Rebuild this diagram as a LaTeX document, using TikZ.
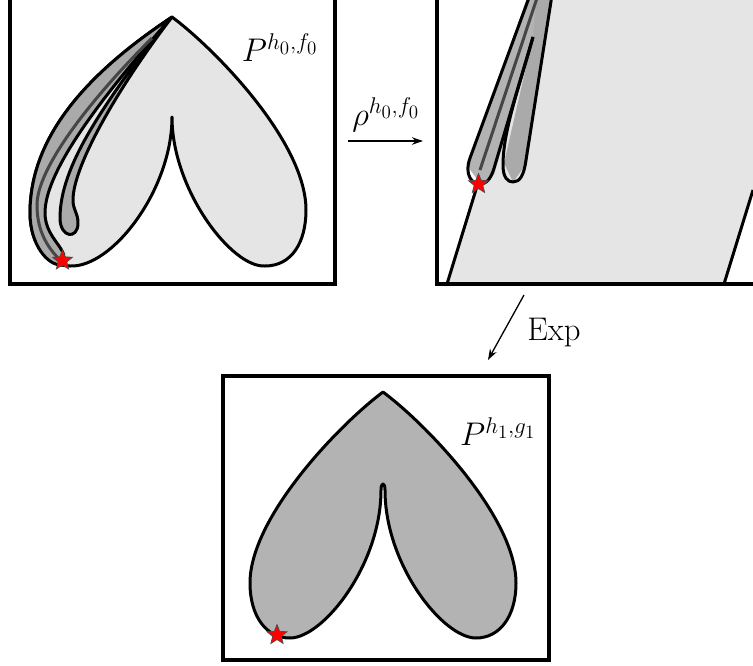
\documentclass[tikz,border=0pt]{standalone}
\usepackage{tikz}
\usetikzlibrary{arrows.meta, shapes.geometric}
\definecolor{heartlight}{RGB}{229,229,229}
\definecolor{heartgrey}{RGB}{179,179,179}
\definecolor{bandgrey}{RGB}{170,170,170}
\definecolor{midgrey}{RGB}{70,70,70}
\begin{document}
\begin{tikzpicture}[x=1pt, y=-1pt,
    frame/.style={draw=black, line width=3.3pt},
    curve/.style={draw=black, line width=3pt, line join=round},
    midline/.style={draw=midgrey, line width=3pt},
    redstar/.style={star, star points=5, star point ratio=2.3, draw=black!70, fill=red,
                    inner sep=0pt, minimum size=21pt, line width=0.7pt},
    maparrow/.style={-{Stealth[length=11pt, width=7.5pt]}, line width=1.3pt},
    label/.style={font=\huge, scale=1.58, inner sep=0pt}
  ]
  \useasboundingbox (0,0) rectangle (753,665);
  \fill[white] (0,0) rectangle (753,665);
  % Top left panel
  \draw[frame] (10,-1.3) rectangle (335,284);
  \draw[curve, fill=heartlight] (172,17) .. controls (215,49) and (306,142) .. (306,210)
    .. controls (306,242) and (292,266) .. (265,266)
    .. controls (232,268) and (172,190) .. (172,117)
    .. controls (172,190) and (112,268) .. (70,266)
    .. controls (48,266) and (30,245) .. (30,213)
    .. controls (30,127) and (103,63) .. (172,17) -- cycle;
  \draw[curve, fill=bandgrey] (172,17) .. controls (103,63) and (30,127) .. (30,213)
    .. controls (30,245) and (48,266) .. (62,265)
    .. controls (72,250) and (45,240) .. (45,213)
    .. controls (45,175) and (90,110) .. (172,17) -- cycle;
  \draw[curve, fill=bandgrey] (172,17) .. controls (120,85) and (73,165) .. (73,200)
    .. controls (73,210) and (78,213) .. (78,223)
    .. controls (78,240) and (60,238) .. (60,218)
    .. controls (60,165) and (105,105) .. (152,40) -- cycle;
  \draw[midline] (152,38) .. controls (85,105) and (37,170) .. (37,205)
    .. controls (37,228) and (45,245) .. (60,260);
  \node[redstar] (starleft) at (62.5,260.5) {};
  \node[label] (pleft) at (280,48) {$P^{h_0,f_0}$};
  % Top right panel
  \begin{scope}
    \clip (437,-5) rectangle (753,284);
    \fill[heartlight] (447,284) -- (478,183) -- (500,100) -- (540,-5) -- (753,-5) -- (753,190) -- (724,284) -- cycle;
    \draw[curve] (447,284) -- (478,183);
    \draw[curve] (724,284) -- (753,190);
    \fill[heartgrey] (528,-5) -- (468,167) -- (480,183) -- (494,175) -- (533,37) -- (540,-5) -- cycle;
    \fill[bandgrey] (533,37) -- (504,163) -- (513,182) -- (527,163) -- (552,-5) -- (537,-5) -- cycle;
    \draw[curve] (530,-5) -- (470,158)
      .. controls (464,175) and (472,184) .. (480,184)
      .. controls (488,184) and (492,176) .. (495,165)
      -- (533,37);
    \draw[curve] (533,37) .. controls (520,85) and (503,130) .. (503,165)
      .. controls (503,178) and (508,182) .. (513,182)
      .. controls (520,182) and (524,175) .. (526,160)
      -- (552,-5);
    \draw[midline] (538,-5) -- (480,170);
  \end{scope}
  \draw[frame] (437,-1.3) -- (437,284) -- (760,284);
  \node[redstar] (starright) at (478.5,184) {};
  % Bottom panel
  \draw[frame] (223,376) rectangle (549,660);
  \draw[curve, fill=heartgrey] (383,392) .. controls (426,424) and (516,517) .. (516,583)
    .. controls (516,616) and (500,638) .. (476,638)
    .. controls (443,638) and (385,565) .. (385,490)
    .. controls (385,482) and (381,482) .. (381,490)
    .. controls (381,565) and (323,638) .. (290,638)
    .. controls (266,638) and (250,616) .. (250,583)
    .. controls (250,517) and (340,424) .. (383,392) -- cycle;
  \node[redstar] (starbottom) at (277,635) {};
  \node[label] (pbottom) at (498,432) {$P^{h_1,g_1}$};
  % Arrows
  \coordinate (rhostart) at (348,141);
  \coordinate (rhoend) at (423,141);
  \coordinate (expstart) at (524,295);
  \coordinate (expend) at (488,360);
  \draw[maparrow] (rhostart) -- (rhoend);
  \draw[maparrow] (expstart) -- (expend);
  \node[label] (rholabel) at (386,115) {$\rho^{h_0,f_0}$};
  \node[label] (explabel) at (554,333) {Exp};
\end{tikzpicture}
\end{document}
